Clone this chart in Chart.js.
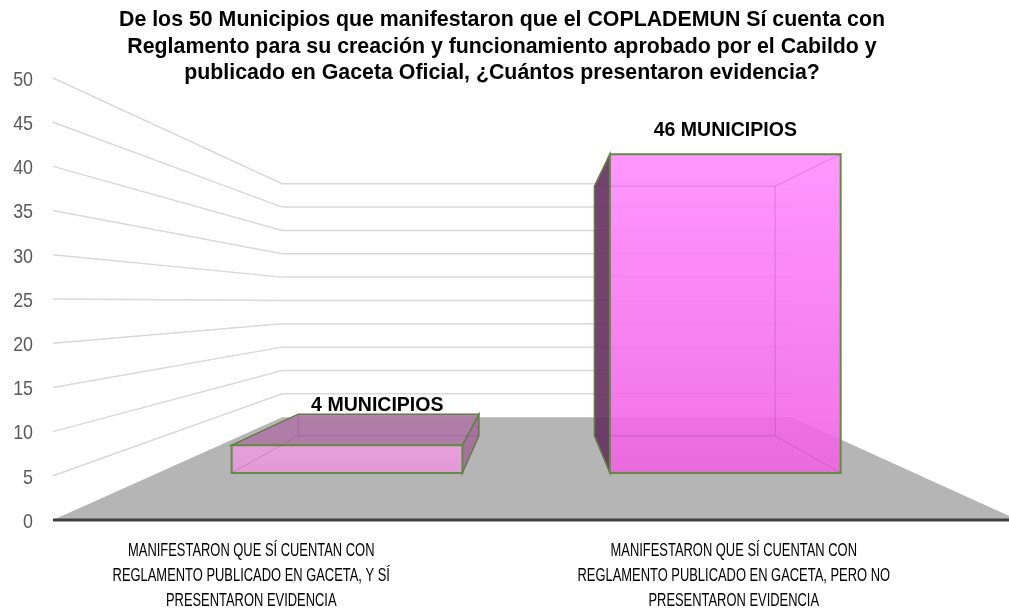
<!DOCTYPE html>
<html>
<head>
<meta charset="utf-8">
<script src="https://cdn.jsdelivr.net/npm/chart.js@4.4.0/dist/chart.umd.min.js"></script>
<style>
  body { margin: 0; overflow: hidden; background: #fff; }
  #wrap { position: relative; width: 1009px; height: 608px; overflow: hidden; }
  #myChart { position: absolute; left: 0; top: 0; }
  #title {
    position: absolute; left: 0; top: 6px; width: 1004px;
    text-align: center; color: #000;
    font: bold 22px "Liberation Sans", Arial, sans-serif;
    line-height: 26.5px;
    transform: scaleX(0.97); transform-origin: 502px 0;
  }
</style>
</head>
<body>
<div id="wrap">
  <canvas id="myChart" width="1030" height="608"></canvas>
  <div id="title">De los 50 Municipios que manifestaron que el COPLADEMUN Sí cuenta con<br>Reglamento para su creación y funcionamiento aprobado por el Cabildo y<br>publicado en Gaceta Oficial, ¿Cuántos presentaron evidencia?</div>
</div>
<script>
const categories = [
  ["MANIFESTARON QUE SÍ CUENTAN CON", "REGLAMENTO PUBLICADO EN GACETA, Y SÍ", "PRESENTARON EVIDENCIA"],
  ["MANIFESTARON QUE SÍ CUENTAN CON", "REGLAMENTO PUBLICADO EN GACETA, PERO NO", "PRESENTARON EVIDENCIA"],
];
const municipios = [4, 46];
const barLabels = ["4 MUNICIPIOS", "46 MUNICIPIOS"];
const yMin = 0;
const yMax = 50;
const yStep = 5;

// colours per bar (front, top, side)
const frontTop = ["rgba(234,158,222,0.92)", "rgba(255,140,255,0.9)"];
const frontBottom = ["rgba(230,152,218,0.92)", "rgba(240,98,226,0.9)"];
const topColors = ["rgba(176,122,168,0.95)", "rgba(176,122,168,0.95)"];
const sideColors = ["rgba(166,110,158,0.95)", "rgba(104,50,98,0.92)"];

const sans = '"Liberation Sans", Arial, sans-serif';

// perspective: vanishing point and depth scales (front plane = 1)
const WALL_S = 0.528;
const BAR_FRONT_S = 0.784;
const BAR_BACK_S = 0.614;

function vp(ca) {
  return { x: (ca.left + ca.right) / 2 + 3, y: ca.top + 0.507 * (ca.bottom - ca.top) };
}
function proj(p, x, y, s) {
  return [p.x + s * (x - p.x), p.y + s * (y - p.y)];
}
function poly(ctx, pts, fill, stroke, lw) {
  ctx.beginPath();
  ctx.moveTo(pts[0][0], pts[0][1]);
  for (let i = 1; i < pts.length; i++) ctx.lineTo(pts[i][0], pts[i][1]);
  ctx.closePath();
  if (fill) { ctx.fillStyle = fill; ctx.fill(); }
  if (stroke) { ctx.strokeStyle = stroke; ctx.lineWidth = lw || 1; ctx.stroke(); }
}
// narrow text: no condensed font installed, so squeeze it
function narrowText(ctx, text, x, y, sx, align) {
  ctx.save();
  ctx.translate(x, y);
  ctx.scale(sx, 1);
  ctx.textAlign = align;
  ctx.fillText(text, 0, 0);
  ctx.restore();
}

const room3d = {
  id: "room3d",
  beforeDatasetsDraw(chart) {
    const ctx = chart.ctx;
    const ca = chart.chartArea;
    const p = vp(ca);
    const yScale = chart.scales.y;
    const xScale = chart.scales.x;
    ctx.save();
    // floor
    poly(ctx, [
      [ca.left, ca.bottom],
      proj(p, ca.left, ca.bottom, WALL_S),
      proj(p, ca.right, ca.bottom, WALL_S),
      [ca.right, ca.bottom],
    ], "#b5b5b5");
    // grid lines on the side wall and back wall
    ctx.strokeStyle = "#d9d9d9";
    ctx.lineWidth = 1.5;
    yScale.ticks.forEach(t => {
      if (t.value === yMin) return;
      const yf = yScale.getPixelForValue(t.value);
      const a = proj(p, ca.left, yf, WALL_S);
      const b = proj(p, ca.right, yf, WALL_S);
      ctx.beginPath();
      ctx.moveTo(ca.left, yf);
      ctx.lineTo(a[0], a[1]);
      ctx.lineTo(b[0], b[1]);
      ctx.stroke();
    });

    // y tick labels
    ctx.fillStyle = "#595959";
    ctx.font = "21px " + sans;
    ctx.textBaseline = "middle";
    yScale.ticks.forEach(t => {
      narrowText(ctx, String(t.value), ca.left - 20, yScale.getPixelForValue(t.value) + 2, 0.85, "right");
    });

    // category labels
    ctx.fillStyle = "#000";
    ctx.font = "19px " + sans;
    ctx.textBaseline = "alphabetic";
    categories.forEach((lines, i) => {
      const cx = xScale.getPixelForTick(i) - 43;
      lines.forEach((ln, j) => {
        narrowText(ctx, ln, cx, ca.bottom + 36 + j * 25, 0.68, "center");
      });
    });
    ctx.restore();
  },
  afterDatasetsDraw(chart) {
    const ctx = chart.ctx;
    const ca = chart.chartArea;
    const p = vp(ca);
    const meta = chart.getDatasetMeta(0);
    ctx.save();
    meta.data.forEach((bar, i) => {
      const L = bar.x - bar.width / 2;
      const R = bar.x + bar.width / 2;
      const T = bar.y;
      const B = bar.base;
      const f = [proj(p, L, T, BAR_FRONT_S), proj(p, R, T, BAR_FRONT_S), proj(p, R, B, BAR_FRONT_S), proj(p, L, B, BAR_FRONT_S)];
      const k = [proj(p, L, T, BAR_BACK_S), proj(p, R, T, BAR_BACK_S), proj(p, R, B, BAR_BACK_S), proj(p, L, B, BAR_BACK_S)];
      const green = "#5e8f3c";
      const topVisible = T > p.y;

      // side face
      if (R < p.x) {
        poly(ctx, [f[1], k[1], k[2], f[2]], sideColors[i], green, 1.5);
      } else if (L > p.x) {
        poly(ctx, [f[0], k[0], k[3], f[3]], sideColors[i], green, 1.5);
      }
      // top face
      if (topVisible) {
        poly(ctx, [f[0], f[1], k[1], k[0]], topColors[i], green, 1.5);
      }
      // front face
      const g = ctx.createLinearGradient(0, f[0][1], 0, f[3][1]);
      g.addColorStop(0, frontTop[i]);
      g.addColorStop(1, frontBottom[i]);
      poly(ctx, f, g, green, 2);

      // hidden edges seen through the translucent faces
      ctx.strokeStyle = "rgba(120,40,110,0.22)";
      ctx.lineWidth = 1;
      poly(ctx, k, null, "rgba(120,40,110,0.22)", 1);
      ctx.beginPath();
      for (let j = 0; j < 4; j++) {
        ctx.moveTo(f[j][0], f[j][1]);
        ctx.lineTo(k[j][0], k[j][1]);
      }
      ctx.stroke();

      // value label, above the far edge of the visible top
      ctx.fillStyle = "#000";
      ctx.font = "bold 21px " + sans;
      ctx.textBaseline = "alphabetic";
      const fc = (f[0][0] + f[1][0]) / 2;
      const kc = (k[0][0] + k[1][0]) / 2;
      const lx = topVisible ? fc + 0.73 * (kc - fc) : fc;
      const ly = topVisible ? k[0][1] - 3 : f[0][1] - 18;
      narrowText(ctx, barLabels[i], lx, ly, 0.93, "center");
    });

    // horizontal axis line
    ctx.strokeStyle = "#404040";
    ctx.lineWidth = 3;
    ctx.beginPath();
    ctx.moveTo(ca.left, ca.bottom);
    ctx.lineTo(ca.right, ca.bottom);
    ctx.stroke();
    ctx.restore();
  },
};

const ctx = document.getElementById("myChart");
const myChart = new Chart(ctx, {
  type: "bar",
  data: {
    labels: categories,
    datasets: [
      {
        label: "Municipios",
        data: municipios,
        backgroundColor: "rgba(0,0,0,0)",
        borderWidth: 0,
        categoryPercentage: 1,
        barPercentage: 0.61,
      },
    ],
  },
  options: {
    responsive: false,
    animation: false,
    layout: { padding: { top: 78, right: 12, left: 0, bottom: 0 } },
    plugins: {
      legend: { display: false },
      tooltip: { enabled: false },
      title: { display: false },
    },
    scales: {
      y: {
        min: yMin,
        max: yMax,
        ticks: { stepSize: yStep, display: false },
        grid: { display: false, drawTicks: false },
        border: { display: false },
        afterFit(scale) { scale.width = 53; },
      },
      x: {
        ticks: { display: false, autoSkip: false, maxRotation: 0 },
        grid: { display: false, drawTicks: false },
        border: { display: false },
        afterFit(scale) { scale.height = 88; },
      },
    },
  },
  plugins: [room3d],
});
</script>
</body>
</html>
